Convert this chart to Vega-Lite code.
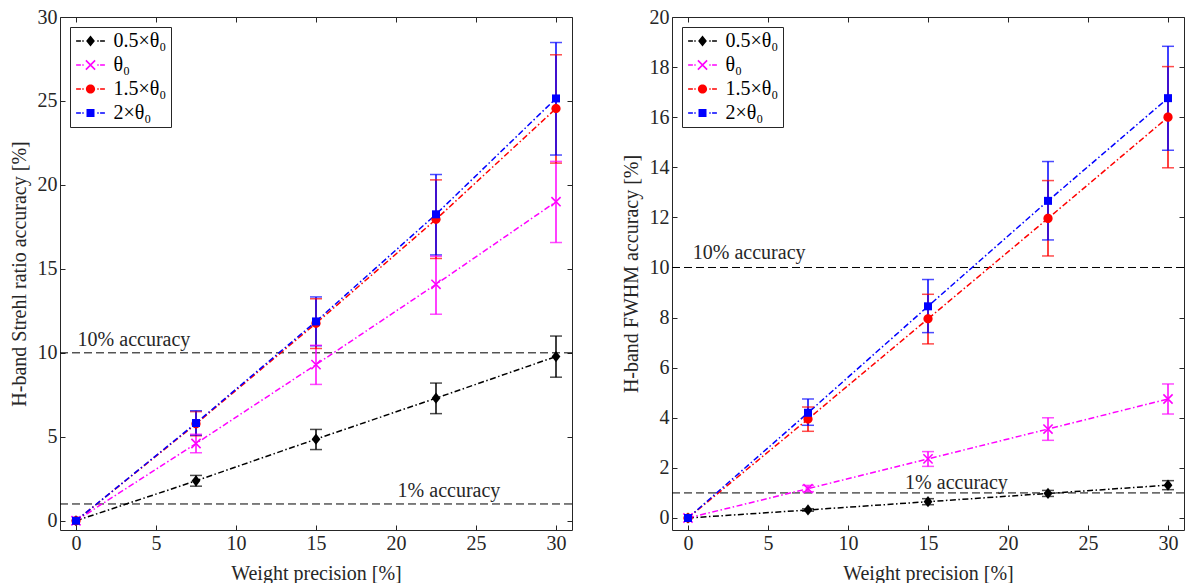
{
  "$schema": "https://vega.github.io/schema/vega-lite/v6.json",
  "background": "white",
  "padding": {"left": 9, "top": 7, "right": 0, "bottom": 0},
  "spacing": 48,
  "datasets": {
    "strehl": [
      {"s": "0.5×θ₀", "x": 0, "y": 0, "lo": 0, "hi": 0},
      {"s": "0.5×θ₀", "x": 7.5, "y": 2.38, "lo": 2.06, "hi": 2.7},
      {"s": "0.5×θ₀", "x": 15, "y": 4.86, "lo": 4.24, "hi": 5.44},
      {"s": "0.5×θ₀", "x": 22.5, "y": 7.3, "lo": 6.38, "hi": 8.2},
      {"s": "0.5×θ₀", "x": 30, "y": 9.78, "lo": 8.55, "hi": 11.0},
      {"s": "θ₀", "x": 0, "y": 0, "lo": 0, "hi": 0},
      {"s": "θ₀", "x": 7.5, "y": 4.6, "lo": 4.05, "hi": 5.15},
      {"s": "θ₀", "x": 15, "y": 9.3, "lo": 8.12, "hi": 10.45},
      {"s": "θ₀", "x": 22.5, "y": 14.08, "lo": 12.3, "hi": 15.75},
      {"s": "θ₀", "x": 30, "y": 19.0, "lo": 16.57, "hi": 21.4},
      {"s": "1.5×θ₀", "x": 0, "y": 0, "lo": 0, "hi": 0},
      {"s": "1.5×θ₀", "x": 7.5, "y": 5.77, "lo": 5.06, "hi": 6.5},
      {"s": "1.5×θ₀", "x": 15, "y": 11.76, "lo": 10.26, "hi": 13.22},
      {"s": "1.5×θ₀", "x": 22.5, "y": 17.95, "lo": 15.62, "hi": 20.3},
      {"s": "1.5×θ₀", "x": 30, "y": 24.55, "lo": 21.3, "hi": 27.75},
      {"s": "2×θ₀", "x": 0, "y": 0, "lo": 0, "hi": 0},
      {"s": "2×θ₀", "x": 7.5, "y": 5.82, "lo": 5.1, "hi": 6.55},
      {"s": "2×θ₀", "x": 15, "y": 11.87, "lo": 10.42, "hi": 13.33},
      {"s": "2×θ₀", "x": 22.5, "y": 18.25, "lo": 15.83, "hi": 20.62},
      {"s": "2×θ₀", "x": 30, "y": 25.15, "lo": 21.78, "hi": 28.48}
    ],
    "fwhm": [
      {"s": "0.5×θ₀", "x": 0, "y": 0, "lo": 0, "hi": 0},
      {"s": "0.5×θ₀", "x": 7.5, "y": 0.32, "lo": 0.27, "hi": 0.37},
      {"s": "0.5×θ₀", "x": 15, "y": 0.65, "lo": 0.53, "hi": 0.77},
      {"s": "0.5×θ₀", "x": 22.5, "y": 0.98, "lo": 0.86, "hi": 1.1},
      {"s": "0.5×θ₀", "x": 30, "y": 1.31, "lo": 1.13, "hi": 1.49},
      {"s": "θ₀", "x": 0, "y": 0, "lo": 0, "hi": 0},
      {"s": "θ₀", "x": 7.5, "y": 1.17, "lo": 1.05, "hi": 1.3},
      {"s": "θ₀", "x": 15, "y": 2.36, "lo": 2.06, "hi": 2.65},
      {"s": "θ₀", "x": 22.5, "y": 3.55, "lo": 3.1, "hi": 4.0},
      {"s": "θ₀", "x": 30, "y": 4.75, "lo": 4.15, "hi": 5.35},
      {"s": "1.5×θ₀", "x": 0, "y": 0, "lo": 0, "hi": 0},
      {"s": "1.5×θ₀", "x": 7.5, "y": 3.95, "lo": 3.46, "hi": 4.43},
      {"s": "1.5×θ₀", "x": 15, "y": 7.95, "lo": 6.95, "hi": 8.93},
      {"s": "1.5×θ₀", "x": 22.5, "y": 11.96, "lo": 10.46, "hi": 13.47},
      {"s": "1.5×θ₀", "x": 30, "y": 16.0, "lo": 13.98, "hi": 18.02},
      {"s": "2×θ₀", "x": 0, "y": 0, "lo": 0, "hi": 0},
      {"s": "2×θ₀", "x": 7.5, "y": 4.2, "lo": 3.7, "hi": 4.75},
      {"s": "2×θ₀", "x": 15, "y": 8.45, "lo": 7.4, "hi": 9.52},
      {"s": "2×θ₀", "x": 22.5, "y": 12.66, "lo": 11.1, "hi": 14.23},
      {"s": "2×θ₀", "x": 30, "y": 16.76, "lo": 14.68, "hi": 18.83}
    ],
    "acc": [{"v": 10}, {"v": 1}],
    "textL": [
      {"x": 0.1, "y": 10.42, "t": "10% accuracy"},
      {"x": 20.1, "y": 1.39, "t": "1% accuracy"}
    ],
    "textR": [
      {"x": 0.3, "y": 10.35, "t": "10% accuracy"},
      {"x": 13.57, "y": 1.17, "t": "1% accuracy"}
    ],
    "leg": [{"s": "0.5×θ₀"}, {"s": "θ₀"}, {"s": "1.5×θ₀"}, {"s": "2×θ₀"}]
  },
  "config": {
    "font": "Liberation Serif",
    "view": {"stroke": null},
    "axis": {
      "grid": false,
      "labelFont": "Liberation Serif",
      "labelFontSize": 20,
      "labelColor": "#262626",
      "titleFont": "Liberation Serif",
      "titleFontSize": 20,
      "titleFontWeight": "normal",
      "titleColor": "#262626",
      "domainColor": "#262626",
      "tickColor": "#262626",
      "domainWidth": 1,
      "tickWidth": 1,
      "tickSize": -5,
      "labelFlush": false,
      "labelOverlap": false
    },
    "legend": {
      "orient": "top-left",
      "offset": 10,
      "padding": 4,
      "strokeColor": "#262626",
      "fillColor": "white",
      "labelFont": "Liberation Serif",
      "labelFontSize": 20,
      "labelColor": "#000000",
      "rowPadding": 4,
      "symbolOffset": 6.5,
      "labelOffset": 13,
      "symbolSize": 64,
      "symbolStrokeWidth": 0,
      "symbolOpacity": 1
    }
  },
  "hconcat": [
    {
      "width": 512,
      "height": 513,
      "resolve": {"scale": {"color": "independent", "shape": "independent"}, "axis": {"x": "independent", "y": "independent"}},
      "layer": [
        {
          "data": {"name": "acc"},
          "mark": {"type": "rule", "color": "#000000", "strokeWidth": 1, "strokeDash": [8, 4]},
          "encoding": {"y": {"field": "v", "type": "quantitative", "scale": {"domain": [-0.55, 30], "nice": false, "zero": false}, "axis": null}}
        },
        {
          "data": {"name": "textL"},
          "mark": {"type": "text", "align": "left", "baseline": "alphabetic", "fontSize": 20, "font": "Liberation Serif", "color": "#262626"},
          "encoding": {
            "x": {"field": "x", "type": "quantitative", "scale": {"domain": [-1, 31], "nice": false, "zero": false}, "axis": null},
            "y": {"field": "y", "type": "quantitative", "scale": {"domain": [-0.55, 30], "nice": false, "zero": false}, "axis": null},
            "text": {"field": "t"}
          }
        },
        {
          "data": {"name": "strehl"},
          "mark": {"type": "line", "strokeWidth": 1.5, "strokeDash": [6, 2.5, 1.5, 2.5]},
          "encoding": {
            "x": {"field": "x", "type": "quantitative", "scale": {"domain": [-1, 31], "nice": false, "zero": false},
              "axis": {"orient": "bottom", "values": [0, 5, 10, 15, 20, 25, 30], "title": "Weight precision [%]", "labelPadding": 8, "titlePadding": 10}},
            "y": {"field": "y", "type": "quantitative", "scale": {"domain": [-0.55, 30], "nice": false, "zero": false},
              "axis": {"orient": "left", "values": [0, 5, 10, 15, 20, 25, 30], "title": "H-band Strehl ratio accuracy [%]", "labelPadding": 8, "titlePadding": 8}},
            "color": {"field": "s", "type": "nominal", "scale": {"domain": ["0.5×θ₀", "θ₀", "1.5×θ₀", "2×θ₀"], "range": ["#000000", "#ff00ff", "#ff0000", "#0000ff"]}, "legend": null}
          }
        },
        {
          "data": {"name": "strehl"},
          "transform": [{"filter": "datum.x > 0"}],
          "mark": {"type": "rule", "strokeWidth": 1.5},
          "encoding": {
            "x": {"field": "x", "type": "quantitative", "scale": {"domain": [-1, 31], "nice": false, "zero": false}, "axis": null},
            "y": {"field": "lo", "type": "quantitative", "scale": {"domain": [-0.55, 30], "nice": false, "zero": false}, "axis": null},
            "y2": {"field": "hi"},
            "color": {"field": "s", "type": "nominal", "scale": {"domain": ["0.5×θ₀", "θ₀", "1.5×θ₀", "2×θ₀"], "range": ["#000000", "#ff00ff", "#ff0000", "#0000ff"]}, "legend": null}
          }
        },
        {
          "data": {"name": "strehl"},
          "transform": [{"filter": "datum.x > 0"}],
          "mark": {"type": "tick", "orient": "horizontal", "size": 12, "thickness": 1.5},
          "encoding": {
            "x": {"field": "x", "type": "quantitative", "scale": {"domain": [-1, 31], "nice": false, "zero": false}, "axis": null},
            "y": {"field": "lo", "type": "quantitative", "scale": {"domain": [-0.55, 30], "nice": false, "zero": false}, "axis": null},
            "color": {"field": "s", "type": "nominal", "scale": {"domain": ["0.5×θ₀", "θ₀", "1.5×θ₀", "2×θ₀"], "range": ["#000000", "#ff00ff", "#ff0000", "#0000ff"]}, "legend": null}
          }
        },
        {
          "data": {"name": "strehl"},
          "transform": [{"filter": "datum.x > 0"}],
          "mark": {"type": "tick", "orient": "horizontal", "size": 12, "thickness": 1.5},
          "encoding": {
            "x": {"field": "x", "type": "quantitative", "scale": {"domain": [-1, 31], "nice": false, "zero": false}, "axis": null},
            "y": {"field": "hi", "type": "quantitative", "scale": {"domain": [-0.55, 30], "nice": false, "zero": false}, "axis": null},
            "color": {"field": "s", "type": "nominal", "scale": {"domain": ["0.5×θ₀", "θ₀", "1.5×θ₀", "2×θ₀"], "range": ["#000000", "#ff00ff", "#ff0000", "#0000ff"]}, "legend": null}
          }
        },
        {
          "data": {"name": "strehl"},
          "mark": {"type": "point", "filled": true, "size": 64, "opacity": 1},
          "encoding": {
            "x": {"field": "x", "type": "quantitative", "scale": {"domain": [-1, 31], "nice": false, "zero": false},
              "axis": {"orient": "top", "values": [0, 5, 10, 15, 20, 25, 30], "labels": false, "title": null}},
            "y": {"field": "y", "type": "quantitative", "scale": {"domain": [-0.55, 30], "nice": false, "zero": false},
              "axis": {"orient": "right", "values": [0, 5, 10, 15, 20, 25, 30], "labels": false, "title": null}},
            "color": {"field": "s", "type": "nominal", "scale": {"domain": ["0.5×θ₀", "θ₀", "1.5×θ₀", "2×θ₀"], "range": ["#000000", "#ff00ff", "#ff0000", "#0000ff"]}, "legend": null},
            "shape": {"field": "s", "type": "nominal", "legend": null, "scale": {"domain": ["0.5×θ₀", "θ₀", "1.5×θ₀", "2×θ₀"], "range": [
              "M0,-1.4L1.1,0L0,1.4L-1.1,0Z",
              "M-1.01,-1.29L1.29,1.01L1.01,1.29L-1.29,-1.01ZM-1.29,1.01L1.01,-1.29L1.29,-1.01L-1.01,1.29Z",
              "M1.15,0A1.15,1.15,0,1,1,-1.15,0A1.15,1.15,0,1,1,1.15,0Z",
              "M-1,-1H1V1H-1Z"]}}
          }
        },
        {
          "data": {"name": "leg"},
          "mark": {"type": "point", "filled": true, "size": 64, "opacity": 0},
          "encoding": {
            "color": {"field": "s", "type": "nominal", "scale": {"domain": ["0.5×θ₀", "θ₀", "1.5×θ₀", "2×θ₀"], "range": ["#000000", "#ff00ff", "#ff0000", "#0000ff"]}, "legend": {"title": null}},
            "shape": {"field": "s", "type": "nominal", "legend": {"title": null}, "scale": {"domain": ["0.5×θ₀", "θ₀", "1.5×θ₀", "2×θ₀"], "range": [
              "M-3.6,-0.18H-2.4V0.18H-3.6ZM-2.05,-0.18H-1.7V0.18H-2.05ZM1.7,-0.18H2.05V0.18H1.7ZM2.4,-0.18H3.6V0.18H2.4ZM0,-1.4L1.1,0L0,1.4L-1.1,0Z",
              "M-3.6,-0.18H-2.4V0.18H-3.6ZM-2.05,-0.18H-1.7V0.18H-2.05ZM1.7,-0.18H2.05V0.18H1.7ZM2.4,-0.18H3.6V0.18H2.4ZM-1.01,-1.29L1.29,1.01L1.01,1.29L-1.29,-1.01ZM-1.29,1.01L1.01,-1.29L1.29,-1.01L-1.01,1.29Z",
              "M-3.6,-0.18H-2.4V0.18H-3.6ZM-2.05,-0.18H-1.7V0.18H-2.05ZM1.7,-0.18H2.05V0.18H1.7ZM2.4,-0.18H3.6V0.18H2.4ZM1.15,0A1.15,1.15,0,1,1,-1.15,0A1.15,1.15,0,1,1,1.15,0Z",
              "M-3.6,-0.18H-2.4V0.18H-3.6ZM-2.05,-0.18H-1.7V0.18H-2.05ZM1.7,-0.18H2.05V0.18H1.7ZM2.4,-0.18H3.6V0.18H2.4ZM-1,-1H1V1H-1Z"]}}
          }
        }
      ]
    },
    {
      "width": 512,
      "height": 513,
      "resolve": {"scale": {"color": "independent", "shape": "independent"}, "axis": {"x": "independent", "y": "independent"}},
      "layer": [
        {
          "data": {"name": "acc"},
          "mark": {"type": "rule", "color": "#000000", "strokeWidth": 1, "strokeDash": [8, 4]},
          "encoding": {"y": {"field": "v", "type": "quantitative", "scale": {"domain": [-0.48, 20], "nice": false, "zero": false}, "axis": null}}
        },
        {
          "data": {"name": "textR"},
          "mark": {"type": "text", "align": "left", "baseline": "alphabetic", "fontSize": 20, "font": "Liberation Serif", "color": "#262626"},
          "encoding": {
            "x": {"field": "x", "type": "quantitative", "scale": {"domain": [-1, 31], "nice": false, "zero": false}, "axis": null},
            "y": {"field": "y", "type": "quantitative", "scale": {"domain": [-0.48, 20], "nice": false, "zero": false}, "axis": null},
            "text": {"field": "t"}
          }
        },
        {
          "data": {"name": "fwhm"},
          "mark": {"type": "line", "strokeWidth": 1.5, "strokeDash": [6, 2.5, 1.5, 2.5]},
          "encoding": {
            "x": {"field": "x", "type": "quantitative", "scale": {"domain": [-1, 31], "nice": false, "zero": false},
              "axis": {"orient": "bottom", "values": [0, 5, 10, 15, 20, 25, 30], "title": "Weight precision [%]", "labelPadding": 8, "titlePadding": 10}},
            "y": {"field": "y", "type": "quantitative", "scale": {"domain": [-0.48, 20], "nice": false, "zero": false},
              "axis": {"orient": "left", "values": [0, 2, 4, 6, 8, 10, 12, 14, 16, 18, 20], "title": "H-band FWHM accuracy [%]", "labelPadding": 8, "titlePadding": 8}},
            "color": {"field": "s", "type": "nominal", "scale": {"domain": ["0.5×θ₀", "θ₀", "1.5×θ₀", "2×θ₀"], "range": ["#000000", "#ff00ff", "#ff0000", "#0000ff"]}, "legend": null}
          }
        },
        {
          "data": {"name": "fwhm"},
          "transform": [{"filter": "datum.x > 0"}],
          "mark": {"type": "rule", "strokeWidth": 1.5},
          "encoding": {
            "x": {"field": "x", "type": "quantitative", "scale": {"domain": [-1, 31], "nice": false, "zero": false}, "axis": null},
            "y": {"field": "lo", "type": "quantitative", "scale": {"domain": [-0.48, 20], "nice": false, "zero": false}, "axis": null},
            "y2": {"field": "hi"},
            "color": {"field": "s", "type": "nominal", "scale": {"domain": ["0.5×θ₀", "θ₀", "1.5×θ₀", "2×θ₀"], "range": ["#000000", "#ff00ff", "#ff0000", "#0000ff"]}, "legend": null}
          }
        },
        {
          "data": {"name": "fwhm"},
          "transform": [{"filter": "datum.x > 0"}],
          "mark": {"type": "tick", "orient": "horizontal", "size": 12, "thickness": 1.5},
          "encoding": {
            "x": {"field": "x", "type": "quantitative", "scale": {"domain": [-1, 31], "nice": false, "zero": false}, "axis": null},
            "y": {"field": "lo", "type": "quantitative", "scale": {"domain": [-0.48, 20], "nice": false, "zero": false}, "axis": null},
            "color": {"field": "s", "type": "nominal", "scale": {"domain": ["0.5×θ₀", "θ₀", "1.5×θ₀", "2×θ₀"], "range": ["#000000", "#ff00ff", "#ff0000", "#0000ff"]}, "legend": null}
          }
        },
        {
          "data": {"name": "fwhm"},
          "transform": [{"filter": "datum.x > 0"}],
          "mark": {"type": "tick", "orient": "horizontal", "size": 12, "thickness": 1.5},
          "encoding": {
            "x": {"field": "x", "type": "quantitative", "scale": {"domain": [-1, 31], "nice": false, "zero": false}, "axis": null},
            "y": {"field": "hi", "type": "quantitative", "scale": {"domain": [-0.48, 20], "nice": false, "zero": false}, "axis": null},
            "color": {"field": "s", "type": "nominal", "scale": {"domain": ["0.5×θ₀", "θ₀", "1.5×θ₀", "2×θ₀"], "range": ["#000000", "#ff00ff", "#ff0000", "#0000ff"]}, "legend": null}
          }
        },
        {
          "data": {"name": "fwhm"},
          "mark": {"type": "point", "filled": true, "size": 64, "opacity": 1},
          "encoding": {
            "x": {"field": "x", "type": "quantitative", "scale": {"domain": [-1, 31], "nice": false, "zero": false},
              "axis": {"orient": "top", "values": [0, 5, 10, 15, 20, 25, 30], "labels": false, "title": null}},
            "y": {"field": "y", "type": "quantitative", "scale": {"domain": [-0.48, 20], "nice": false, "zero": false},
              "axis": {"orient": "right", "values": [0, 2, 4, 6, 8, 10, 12, 14, 16, 18, 20], "labels": false, "title": null}},
            "color": {"field": "s", "type": "nominal", "scale": {"domain": ["0.5×θ₀", "θ₀", "1.5×θ₀", "2×θ₀"], "range": ["#000000", "#ff00ff", "#ff0000", "#0000ff"]}, "legend": null},
            "shape": {"field": "s", "type": "nominal", "legend": null, "scale": {"domain": ["0.5×θ₀", "θ₀", "1.5×θ₀", "2×θ₀"], "range": [
              "M0,-1.4L1.1,0L0,1.4L-1.1,0Z",
              "M-1.01,-1.29L1.29,1.01L1.01,1.29L-1.29,-1.01ZM-1.29,1.01L1.01,-1.29L1.29,-1.01L-1.01,1.29Z",
              "M1.15,0A1.15,1.15,0,1,1,-1.15,0A1.15,1.15,0,1,1,1.15,0Z",
              "M-1,-1H1V1H-1Z"]}}
          }
        },
        {
          "data": {"name": "leg"},
          "mark": {"type": "point", "filled": true, "size": 64, "opacity": 0},
          "encoding": {
            "color": {"field": "s", "type": "nominal", "scale": {"domain": ["0.5×θ₀", "θ₀", "1.5×θ₀", "2×θ₀"], "range": ["#000000", "#ff00ff", "#ff0000", "#0000ff"]}, "legend": {"title": null}},
            "shape": {"field": "s", "type": "nominal", "legend": {"title": null}, "scale": {"domain": ["0.5×θ₀", "θ₀", "1.5×θ₀", "2×θ₀"], "range": [
              "M-3.6,-0.18H-2.4V0.18H-3.6ZM-2.05,-0.18H-1.7V0.18H-2.05ZM1.7,-0.18H2.05V0.18H1.7ZM2.4,-0.18H3.6V0.18H2.4ZM0,-1.4L1.1,0L0,1.4L-1.1,0Z",
              "M-3.6,-0.18H-2.4V0.18H-3.6ZM-2.05,-0.18H-1.7V0.18H-2.05ZM1.7,-0.18H2.05V0.18H1.7ZM2.4,-0.18H3.6V0.18H2.4ZM-1.01,-1.29L1.29,1.01L1.01,1.29L-1.29,-1.01ZM-1.29,1.01L1.01,-1.29L1.29,-1.01L-1.01,1.29Z",
              "M-3.6,-0.18H-2.4V0.18H-3.6ZM-2.05,-0.18H-1.7V0.18H-2.05ZM1.7,-0.18H2.05V0.18H1.7ZM2.4,-0.18H3.6V0.18H2.4ZM1.15,0A1.15,1.15,0,1,1,-1.15,0A1.15,1.15,0,1,1,1.15,0Z",
              "M-3.6,-0.18H-2.4V0.18H-3.6ZM-2.05,-0.18H-1.7V0.18H-2.05ZM1.7,-0.18H2.05V0.18H1.7ZM2.4,-0.18H3.6V0.18H2.4ZM-1,-1H1V1H-1Z"]}}
          }
        }
      ]
    }
  ]
}
